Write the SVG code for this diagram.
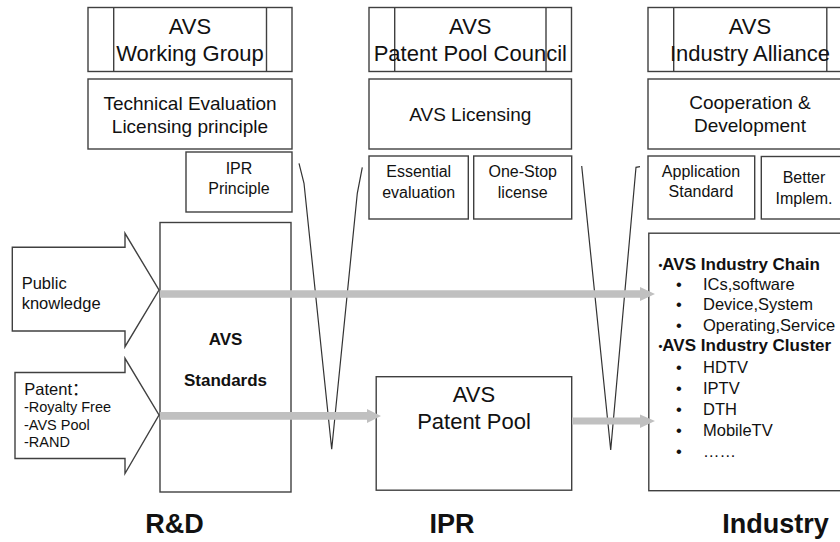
<svg xmlns="http://www.w3.org/2000/svg" width="840" height="542" viewBox="0 0 840 542">
<style>
  .box{fill:#fff;stroke:#404040;stroke-width:1.4}
  .in{fill:none;stroke:#404040;stroke-width:1.4}
  .sep{fill:none;stroke:#333;stroke-width:1.2}
  .gray{fill:#c0c0c0;stroke:none}
  text{font-family:"Liberation Sans",Arial,"Noto Sans CJK SC",sans-serif;fill:#111}
  .t22{font-size:22px;text-anchor:middle}
  .t19{font-size:19px;text-anchor:middle}
  .t16{font-size:16px;text-anchor:middle}
  .b17{font-size:17px;font-weight:bold}
  .i16{font-size:16.5px}
  .s14{font-size:14.5px}
  .big{font-size:27px;font-weight:bold;text-anchor:middle}
</style>
<rect width="840" height="542" fill="#fff"/>

<!-- Column 1: R&D -->
<g id="working-group">
  <rect class="box" x="88" y="7.5" width="204" height="64"/>
  <line class="in" x1="113.7" y1="7.5" x2="113.7" y2="71.5"/>
  <line class="in" x1="266.5" y1="7.5" x2="266.5" y2="71.5"/>
  <text class="t22" x="190" y="34">AVS</text>
  <text class="t22" x="190" y="61">Working Group</text>
</g>
<g id="technical-evaluation">
  <rect class="box" x="88" y="79" width="204" height="70"/>
  <text class="t19" x="190" y="110">Technical Evaluation</text>
  <text class="t19" x="190" y="133">Licensing principle</text>
</g>
<g id="ipr-principle">
  <rect class="box" x="186" y="152" width="106" height="60"/>
  <text class="t16" x="239" y="173.5">IPR</text>
  <text class="t16" x="239" y="193.5">Principle</text>
</g>
<g id="avs-standards">
  <rect class="box" x="160" y="222.5" width="131" height="269.5"/>
  <text class="b17" x="225.5" y="344.5" text-anchor="middle">AVS</text>
  <text class="b17" x="225.5" y="386" text-anchor="middle">Standards</text>
</g>
<g id="public-knowledge">
  <path class="box" d="M12.3,247.3 H125 V233.3 L159,290 L125,346.7 V331 H12.3 Z"/>
  <text class="i16" x="21.7" y="288.5">Public</text>
  <text class="i16" x="21.7" y="308.5">knowledge</text>
</g>
<g id="patent">
  <path class="box" d="M15,372.5 H125 V358.3 L159,415 L125,473.5 V458.5 H15 Z"/>
  <text class="i16" x="24.3" y="395">Patent：</text>
  <text class="s14" x="24" y="412">-Royalty Free</text>
  <text class="s14" x="24" y="429.5">-AVS Pool</text>
  <text class="s14" x="24" y="447">-RAND</text>
</g>

<!-- Column 2: IPR -->
<g id="patent-pool-council">
  <rect class="box" x="369" y="7.5" width="202.5" height="64"/>
  <line class="in" x1="394.7" y1="7.5" x2="394.7" y2="71.5"/>
  <line class="in" x1="546" y1="7.5" x2="546" y2="71.5"/>
  <text class="t22" x="470.3" y="34">AVS</text>
  <text class="t22" x="470.3" y="61">Patent Pool Council</text>
</g>
<g id="avs-licensing">
  <rect class="box" x="369" y="79" width="202.5" height="70"/>
  <text class="t19" x="470.3" y="120.5">AVS Licensing</text>
</g>
<g id="essential-evaluation">
  <rect class="box" x="369" y="156" width="99.3" height="63"/>
  <text class="t16" x="418.7" y="177">Essential</text>
  <text class="t16" x="418.7" y="197.5">evaluation</text>
</g>
<g id="one-stop-license">
  <rect class="box" x="473.7" y="156" width="98" height="63"/>
  <text class="t16" x="522.7" y="177">One-Stop</text>
  <text class="t16" x="522.7" y="197.5">license</text>
</g>
<g id="avs-patent-pool">
  <rect class="box" x="376.2" y="376.7" width="195.5" height="113.5"/>
  <text class="t22" x="474" y="401.7">AVS</text>
  <text class="t22" x="474" y="428.5">Patent Pool</text>
</g>

<!-- Column 3: Industry -->
<g id="industry-alliance">
  <rect class="box" x="648" y="7.5" width="204" height="64"/>
  <line class="in" x1="673.7" y1="7.5" x2="673.7" y2="71.5"/>
  <line class="in" x1="826.8" y1="7.5" x2="826.8" y2="71.5"/>
  <text class="t22" x="750" y="34">AVS</text>
  <text class="t22" x="750" y="61">Industry Alliance</text>
</g>
<g id="cooperation-development">
  <rect class="box" x="648" y="79" width="204" height="70"/>
  <text class="t19" x="750" y="109">Cooperation &amp;</text>
  <text class="t19" x="750" y="132">Development</text>
</g>
<g id="application-standard">
  <rect class="box" x="648" y="156" width="106.7" height="63"/>
  <text class="t16" x="701" y="177">Application</text>
  <text class="t16" x="701" y="197">Standard</text>
</g>
<g id="better-implem">
  <rect class="box" x="761.3" y="156.5" width="86" height="62.5"/>
  <text class="t16" x="804" y="183">Better</text>
  <text class="t16" x="804" y="204">Implem.</text>
</g>
<g id="industry">
  <rect class="box" x="648.8" y="233.2" width="212" height="257.5"/>
  <text class="b17" x="658.5" y="269.5"><tspan font-size="11" dy="-1">•</tspan><tspan dy="1">AVS Industry Chain</tspan></text>
  <g class="i16">
    <text x="676" y="289.5">•</text><text x="703" y="289.5">ICs,software</text>
    <text x="676" y="310">•</text><text x="703" y="310">Device,System</text>
    <text x="676" y="330.5">•</text><text x="703" y="330.5">Operating,Service</text>
  </g>
  <text class="b17" x="658.5" y="351"><tspan font-size="11" dy="-1">•</tspan><tspan dy="1">AVS Industry Cluster</tspan></text>
  <g class="i16">
    <text x="676" y="372.5">•</text><text x="703" y="372.5">HDTV</text>
    <text x="676" y="393.5">•</text><text x="703" y="393.5">IPTV</text>
    <text x="676" y="414.5">•</text><text x="703" y="414.5">DTH</text>
    <text x="676" y="435.5">•</text><text x="703" y="435.5">MobileTV</text>
    <text x="676" y="456.5">•</text><text x="703" y="456.5">……</text>
  </g>
</g>

<!-- Separators -->
<g id="separators">
  <path class="sep" d="M299,163.3 L304,183.3 L331.7,449.3 L357.3,193.3 L362.3,167.3"/>
  <path class="sep" d="M581.7,166 L610.7,450 L636,167.3 L640,166.7"/>
</g>

<!-- Connectors -->
<g id="connectors">
  <path class="gray" d="M160,290.3 H640 V287 L655,294 L640,301 V297.7 H160 Z"/>
  <path class="gray" d="M160,412 H367 V409 L381,416 L367,423 V419.7 H160 Z"/>
  <path class="gray" d="M572,417.5 H640 V414.5 L655,421 L640,428 V424.5 H572 Z"/>
</g>

<!-- Column labels -->
<g id="labels">
  <text class="big" x="174.5" y="533">R&amp;D</text>
  <text class="big" x="452" y="533">IPR</text>
  <text class="big" x="775.5" y="533">Industry</text>
</g>
</svg>
